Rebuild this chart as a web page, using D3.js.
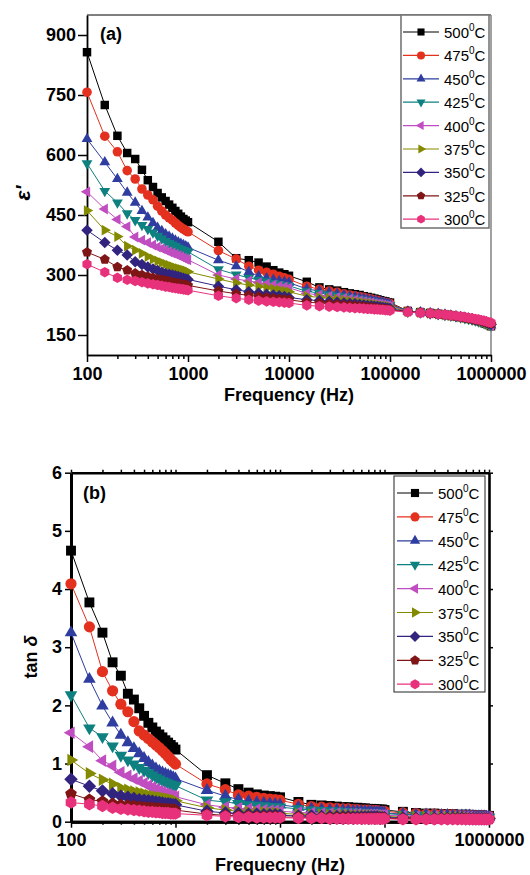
<!DOCTYPE html>
<html>
<head>
<meta charset="utf-8">
<script src="https://cdn.jsdelivr.net/npm/d3@7"></script>
<style>
  body { margin: 0; background: #fff; }
  svg { display: block; }
  text { font-family: Arial, "Liberation Sans", sans-serif; }
</style>
</head>
<body>
<div id="chart"></div>
<script>
// measured frequencies (Hz)
const freqs = [100,150,200,250,300,350,400,450,500,550,600,650,700,750,800,850,900,950,1000,
  2000,3000,4000,5000,6000,7000,8000,9000,10000,
  15000,20000,25000,30000,35000,40000,45000,50000,55000,60000,65000,70000,75000,80000,85000,90000,95000,100000,
  150000,200000,250000,300000,350000,400000,450000,500000,550000,600000,650000,700000,750000,800000,850000,900000,950000,1000000];

const temps = ["500", "475", "450", "425", "400", "375", "350", "325", "300"];
const colors = ["#000000", "#e3301f", "#2e3d9f", "#0f8080", "#c04ec0", "#848a00", "#30247f", "#7f1515", "#e8317b"];
const shapes = ["square", "circle", "up", "down", "left", "right", "diamond", "pentagon", "hexagon"];

// dielectric constant eps'
const eps500 = [857,725,648,605,590,563,537,520,505,494,485,476,468,460,453,446,440,436,432,
  383,342,337,331,321,312,306,302,298,
  283,269,264,261,257,254,252,250,247,245,243,241,239,237,235,234,232,231,
  210,207,205,203,201,199,197,195,193,191,189,187,185,183,180,178,175,172];
const eps475 = [757,647,608,561,540,515,500,488,472,460,450,443,437,430,424,419,415,411,408,
  361,340,322,312,307,302,297,293,289,
  272,264,260,257,253,250,248,246,244,242,240,238,236,234,233,231,230,229,
  210,207,205,203,201,199,197,195,193,191,189,187,185,183,181,178,176,173];
const eps450 = [640,582,540,506,481,460,444,430,418,410,402,396,391,386,382,378,375,372,369,
  337,322,308,297,292,288,285,283,281,
  265,260,256,253,250,247,245,243,241,239,237,235,234,232,231,229,228,227,
  209,207,205,203,201,199,197,195,193,191,189,187,185,183,181,179,176,174];
const eps425 = [579,510,481,454,437,425,415,406,398,391,385,380,376,372,368,365,362,360,358,
  314,301,293,288,284,280,277,275,273,
  259,255,251,248,246,243,241,239,237,235,234,232,231,229,228,227,225,224,
  209,206,204,202,200,198,196,194,192,190,188,186,184,182,180,178,176,174];
const eps400 = [508,465,439,421,395,387,381,375,370,366,362,358,355,352,349,346,343,340,338,
  300,290,285,281,278,275,272,270,268,
  254,250,247,244,242,240,238,236,234,232,231,229,228,227,225,224,223,222,
  209,206,204,202,200,198,196,195,193,191,189,187,185,183,181,179,177,175];
const eps375 = [461,412,396,372,362,354,346,340,335,331,327,324,321,318,316,314,312,310,308,
  290,280,275,271,268,265,262,260,258,
  247,244,241,239,237,235,233,232,230,229,228,226,225,224,223,222,221,220,
  208,206,204,202,200,198,197,195,193,191,190,188,186,184,182,180,178,176];
const eps350 = [412,381,362,350,333,326,320,315,311,307,304,302,300,298,296,294,292,290,289,
  272,263,258,255,252,250,248,246,244,
  238,236,234,232,230,229,228,226,225,224,223,222,221,220,219,218,217,216,
  208,206,204,202,200,199,197,195,194,192,190,188,187,185,183,181,179,177];
const eps325 = [357,339,320,312,304,300,296,293,290,288,286,284,282,280,279,278,276,275,274,
  260,253,249,246,244,242,240,239,238,
  232,230,228,227,225,224,223,222,221,220,219,218,217,216,215,215,214,213,
  208,206,204,202,201,199,197,196,194,192,191,189,187,186,184,182,180,178];
const eps300 = [327,307,293,288,285,282,279,277,275,273,271,270,268,267,266,265,264,263,262,
  248,242,238,236,234,233,232,231,230,
  224,222,221,220,219,218,217,217,216,215,215,214,214,213,213,212,212,211,
  207,205,204,202,201,199,198,196,195,193,192,190,189,187,186,184,182,181];

// loss tangent tan delta
const tan500 = [4.66,3.77,3.25,2.74,2.51,2.20,2.10,1.95,1.82,1.70,1.62,1.55,1.50,1.45,1.40,1.36,1.32,1.28,1.24,
  0.80,0.66,0.56,0.50,0.47,0.45,0.44,0.43,0.42,
  0.34,0.29,0.28,0.27,0.26,0.25,0.25,0.24,0.24,0.23,0.23,0.22,0.22,0.22,0.21,0.21,0.21,0.20,
  0.17,0.15,0.14,0.14,0.13,0.13,0.13,0.12,0.12,0.12,0.12,0.11,0.11,0.11,0.11,0.10,0.10,0.10];
const tan475 = [4.09,3.35,2.58,2.25,2.02,1.89,1.72,1.56,1.49,1.43,1.37,1.32,1.27,1.22,1.17,1.12,1.07,1.03,0.99,
  0.65,0.55,0.46,0.44,0.42,0.40,0.39,0.38,0.37,
  0.30,0.26,0.25,0.24,0.23,0.22,0.22,0.21,0.21,0.20,0.20,0.20,0.19,0.19,0.19,0.18,0.18,0.18,
  0.15,0.14,0.13,0.13,0.12,0.12,0.12,0.11,0.11,0.11,0.11,0.10,0.10,0.10,0.10,0.10,0.09,0.09];
const tan450 = [3.25,2.45,1.99,1.70,1.49,1.36,1.26,1.17,1.09,1.02,0.96,0.91,0.87,0.84,0.82,0.80,0.78,0.76,0.74,
  0.54,0.44,0.38,0.35,0.33,0.32,0.31,0.30,0.29,
  0.25,0.22,0.21,0.20,0.20,0.19,0.19,0.18,0.18,0.18,0.17,0.17,0.17,0.16,0.16,0.16,0.16,0.15,
  0.13,0.12,0.12,0.11,0.11,0.11,0.10,0.10,0.10,0.10,0.10,0.09,0.09,0.09,0.09,0.09,0.08,0.08];
const tan425 = [2.18,1.61,1.46,1.30,1.14,1.06,0.99,0.93,0.88,0.84,0.80,0.76,0.73,0.70,0.68,0.66,0.64,0.63,0.62,
  0.37,0.34,0.31,0.29,0.28,0.27,0.26,0.25,0.25,
  0.22,0.20,0.19,0.18,0.18,0.17,0.17,0.16,0.16,0.16,0.15,0.15,0.15,0.15,0.14,0.14,0.14,0.14,
  0.12,0.11,0.11,0.10,0.10,0.10,0.10,0.09,0.09,0.09,0.09,0.09,0.08,0.08,0.08,0.08,0.08,0.08];
const tan400 = [1.53,1.29,1.05,0.96,0.85,0.79,0.74,0.70,0.66,0.62,0.59,0.56,0.53,0.51,0.49,0.47,0.45,0.44,0.43,
  0.29,0.25,0.23,0.22,0.21,0.20,0.19,0.19,0.18,
  0.16,0.15,0.14,0.14,0.14,0.13,0.13,0.13,0.13,0.12,0.12,0.12,0.12,0.12,0.11,0.11,0.11,0.11,
  0.10,0.09,0.09,0.09,0.09,0.08,0.08,0.08,0.08,0.08,0.08,0.07,0.07,0.07,0.07,0.07,0.07,0.07];
const tan375 = [1.06,0.83,0.72,0.65,0.58,0.55,0.52,0.50,0.48,0.46,0.44,0.43,0.42,0.41,0.40,0.39,0.38,0.37,0.36,
  0.24,0.20,0.18,0.17,0.16,0.16,0.15,0.15,0.14,
  0.13,0.12,0.12,0.11,0.11,0.11,0.11,0.10,0.10,0.10,0.10,0.10,0.10,0.09,0.09,0.09,0.09,0.09,
  0.08,0.08,0.08,0.07,0.07,0.07,0.07,0.07,0.07,0.07,0.06,0.06,0.06,0.06,0.06,0.06,0.06,0.06];
const tan350 = [0.73,0.61,0.53,0.48,0.44,0.42,0.40,0.38,0.37,0.36,0.35,0.34,0.33,0.32,0.31,0.31,0.30,0.29,0.29,
  0.18,0.15,0.14,0.13,0.13,0.12,0.12,0.12,0.11,
  0.10,0.10,0.09,0.09,0.09,0.09,0.09,0.08,0.08,0.08,0.08,0.08,0.08,0.08,0.08,0.07,0.07,0.07,
  0.07,0.06,0.06,0.06,0.06,0.06,0.06,0.06,0.06,0.05,0.05,0.05,0.05,0.05,0.05,0.05,0.05,0.05];
const tan325 = [0.48,0.38,0.35,0.31,0.29,0.28,0.27,0.26,0.25,0.24,0.24,0.23,0.23,0.22,0.22,0.21,0.21,0.21,0.20,
  0.13,0.11,0.10,0.10,0.09,0.09,0.09,0.09,0.08,
  0.08,0.07,0.07,0.07,0.07,0.07,0.07,0.06,0.06,0.06,0.06,0.06,0.06,0.06,0.06,0.06,0.06,0.06,
  0.05,0.05,0.05,0.05,0.05,0.05,0.05,0.05,0.05,0.05,0.05,0.04,0.04,0.04,0.04,0.04,0.04,0.04];
const tan300 = [0.33,0.30,0.27,0.24,0.22,0.21,0.20,0.19,0.18,0.17,0.17,0.16,0.16,0.15,0.15,0.15,0.14,0.14,0.14,
  0.11,0.09,0.08,0.08,0.07,0.07,0.07,0.07,0.07,
  0.06,0.06,0.06,0.05,0.05,0.05,0.05,0.05,0.05,0.05,0.05,0.05,0.05,0.05,0.05,0.05,0.05,0.05,
  0.04,0.04,0.04,0.04,0.04,0.04,0.04,0.04,0.04,0.04,0.04,0.04,0.04,0.04,0.04,0.04,0.04,0.04];

const epsSeries = [eps500, eps475, eps450, eps425, eps400, eps375, eps350, eps325, eps300];
const tanSeries = [tan500, tan475, tan450, tan425, tan400, tan375, tan350, tan325, tan300];

const xMajor = [100, 1000, 10000, 100000, 1000000];
let xMinor = [];
xMajor.slice(0, 4).forEach(d => { for (let k = 2; k <= 9; k++) xMinor.push(d * k); });

const W = 530, H = 875;
let svg = d3.select("#chart").append("svg")
  .attr("width", W).attr("height", H);

// marker outline, r = circumradius
function markerPath(kind, r) {
  if (kind === "circle") return d3.symbol(d3.symbolCircle, Math.PI * r * r)();
  let n = 4, rot = -90;
  if (kind === "square") { n = 4; rot = 45; r = r * 1.25; }
  if (kind === "diamond") { n = 4; rot = -90; r = r * 1.2; }
  if (kind === "up") { n = 3; rot = -90; r = r * 1.3; }
  if (kind === "down") { n = 3; rot = 90; r = r * 1.3; }
  if (kind === "left") { n = 3; rot = 180; r = r * 1.3; }
  if (kind === "right") { n = 3; rot = 0; r = r * 1.3; }
  if (kind === "pentagon") { n = 5; rot = -90; r = r * 1.1; }
  if (kind === "hexagon") { n = 6; rot = -90; r = r * 1.1; }
  let pts = d3.range(n).map(i => {
    let a = (rot + i * 360 / n) * Math.PI / 180;
    return [r * Math.cos(a), r * Math.sin(a)];
  });
  return "M" + pts.map(p => p[0].toFixed(2) + "," + p[1].toFixed(2)).join("L") + "Z";
}

function drawSeries(g, x, y, series, r) {
  series.forEach((vals, i) => {
    let pts = freqs.map((f, j) => [f, vals[j]]);
    g.append("path")
      .attr("d", d3.line().x(d => x(d[0])).y(d => y(d[1]))(pts))
      .attr("fill", "none")
      .attr("stroke", colors[i])
      .attr("stroke-width", 1);
    let path = markerPath(shapes[i], r);
    g.selectAll(null)
      .data(pts)
      .enter().append("path")
      .attr("d", path)
      .attr("transform", d => `translate(${x(d[0])},${y(d[1])})`)
      .attr("fill", colors[i]);
  });
}

function drawLegend(g, box, x0, y0, step, r, border, borderW) {
  g.append("rect")
    .attr("x", box[0]).attr("y", box[1])
    .attr("width", box[2]).attr("height", box[3])
    .attr("fill", "#fff")
    .attr("stroke", border)
    .attr("stroke-width", borderW);
  temps.forEach((t, i) => {
    let cy = y0 + i * step;
    g.append("line")
      .attr("x1", x0).attr("x2", x0 + 36)
      .attr("y1", cy).attr("y2", cy)
      .attr("stroke", colors[i]).attr("stroke-width", 1.2);
    g.append("path")
      .attr("d", markerPath(shapes[i], r))
      .attr("transform", `translate(${x0 + 18},${cy})`)
      .attr("fill", colors[i]);
    let txt = g.append("text")
      .attr("x", x0 + 41).attr("y", cy + 6)
      .style("font-size", "15px");
    txt.append("tspan").text(t);
    txt.append("tspan").attr("dy", -7).style("font-size", "10px").text("0");
    txt.append("tspan").attr("dy", 7).text("C");
  });
}

function styleAxis(g, w) {
  g.select(".domain").attr("stroke", "#000").attr("stroke-width", w);
  g.selectAll(".tick line").attr("stroke", "#000").attr("stroke-width", Math.min(w, 1.5));
  g.selectAll(".tick text")
    .attr("fill", "#000")
    .style("font-size", "18px")
    .style("font-weight", "bold")
    .style("font-family", "Arial, 'Liberation Sans', sans-serif");
}

// ---------- panel (a) ----------
{
  let x = d3.scaleLog().domain([100, 1e6]).range([87, 491]);
  let y = d3.scaleLinear().domain([100, 950]).range([355, 15]);
  let g = svg.append("g");

  g.append("line").attr("x1", 87).attr("x2", 491).attr("y1", 15).attr("y2", 15)
    .attr("stroke", "#000").attr("stroke-width", 1);
  g.append("line").attr("x1", 491).attr("x2", 491).attr("y1", 15).attr("y2", 355)
    .attr("stroke", "#8a8a8a").attr("stroke-width", 1.6);

  let ax = g.append("g").attr("transform", "translate(0,355)")
    .call(d3.axisBottom(x).tickValues(xMinor).tickSize(4).tickFormat("").tickSizeOuter(0));
  styleAxis(ax, 1.5);
  ax = g.append("g").attr("transform", "translate(0,355)")
    .call(d3.axisBottom(x).tickValues(xMajor).tickSize(7).tickPadding(5).tickFormat(d3.format("d")).tickSizeOuter(0));
  styleAxis(ax, 1.5);
  let ay = g.append("g").attr("transform", "translate(87,0)")
    .call(d3.axisLeft(y).tickValues([150, 300, 450, 600, 750, 900]).tickSize(9).tickPadding(2).tickSizeOuter(0));
  styleAxis(ay, 1.8);

  g.append("text")
    .attr("x", 289).attr("y", 401)
    .attr("text-anchor", "middle")
    .style("font-size", "18px").style("font-weight", "bold")
    .text("Frequency (Hz)");
  g.append("text")
    .attr("transform", "translate(30,193) rotate(-90)")
    .attr("text-anchor", "middle")
    .style("font-size", "21px").style("font-weight", "bold").style("font-style", "italic")
    .text("\u03b5'");
  g.append("text")
    .attr("x", 100).attr("y", 40)
    .style("font-size", "18px").style("font-weight", "bold")
    .text("(a)");

  drawSeries(g, x, y, epsSeries, 4.8);
  drawLegend(g, [401, 15, 88, 213], 403, 32, 23.4, 4, "#777", 1.6);
}

// ---------- panel (b) ----------
{
  let x = d3.scaleLog().domain([100, 1e6]).range([71, 489]);
  let y = d3.scaleLinear().domain([0, 6]).range([821.7, 472.7]);
  let g = svg.append("g");

  let ax = g.append("g").attr("transform", "translate(0,821.7)")
    .call(d3.axisBottom(x).tickValues(xMinor).tickSize(3).tickFormat("").tickSizeOuter(0));
  styleAxis(ax, 3);
  ax = g.append("g").attr("transform", "translate(0,821.7)")
    .call(d3.axisBottom(x).tickValues(xMajor).tickSize(6).tickPadding(6).tickFormat(d3.format("d")).tickSizeOuter(0));
  styleAxis(ax, 3);
  let at = g.append("g").attr("transform", "translate(0,472.7)")
    .call(d3.axisTop(x).tickValues(xMinor.concat(xMajor)).tickSize(3).tickFormat("").tickSizeOuter(0));
  styleAxis(at, 2.6);
  let ay = g.append("g").attr("transform", "translate(71,0)")
    .call(d3.axisLeft(y).tickValues([0, 1, 2, 3, 4, 5, 6]).tickSize(6).tickPadding(3).tickFormat(d3.format("d")).tickSizeOuter(0));
  styleAxis(ay, 3);
  let ar = g.append("g").attr("transform", "translate(489,0)")
    .call(d3.axisRight(y).tickValues([0, 1, 2, 3, 4, 5, 6]).tickSize(4).tickFormat("").tickSizeOuter(0));
  styleAxis(ar, 2.6);

  g.append("text")
    .attr("x", 280).attr("y", 871)
    .attr("text-anchor", "middle")
    .style("font-size", "18px").style("font-weight", "bold")
    .text("Frequecny (Hz)");
  let yt = g.append("text")
    .attr("transform", "translate(37,657) rotate(-90)")
    .attr("text-anchor", "middle")
    .style("font-size", "18px").style("font-weight", "bold");
  yt.append("tspan").text("tan ");
  yt.append("tspan").style("font-style", "italic").text("\u03b4");
  g.append("text")
    .attr("x", 83).attr("y", 499)
    .style("font-size", "18px").style("font-weight", "bold")
    .text("(b)");

  drawSeries(g, x, y, tanSeries, 5.6);
  drawLegend(g, [394, 476, 91, 216], 397, 493, 23.9, 4.6, "#222", 1);
}
</script>
</body>
</html>
